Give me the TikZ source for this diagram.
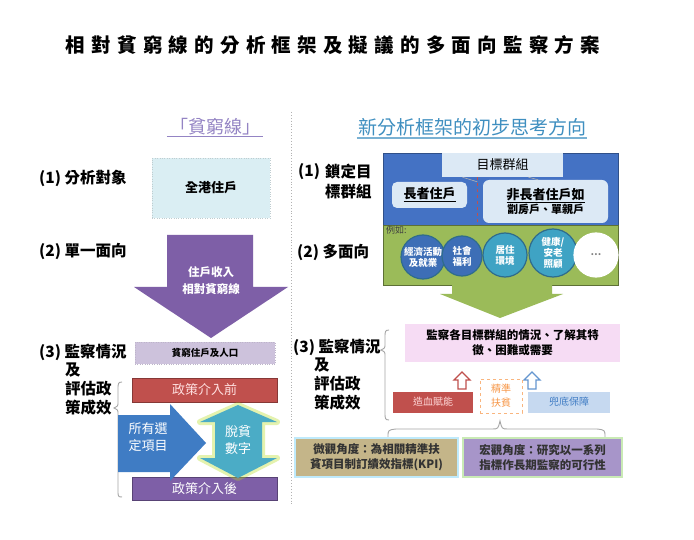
\documentclass[tikz,border=0pt]{standalone}
\usepackage{fontspec}
\setmainfont{Noto Sans CJK TC}
\usetikzlibrary{shapes.geometric}
\newcommand\fsz[2]{\fontsize{#1}{#2}\selectfont}
\definecolor{purp}{HTML}{7E5FA7}
\definecolor{lav}{HTML}{CDC2DC}
\definecolor{redb}{HTML}{C0504D}
\definecolor{bluea}{HTML}{3F7CC4}
\definecolor{teal}{HTML}{4BACC6}
\definecolor{cyanb}{HTML}{DAEEF3}
\definecolor{bigblue}{HTML}{4472C4}
\definecolor{tabb}{HTML}{DCE9F5}
\definecolor{greenb}{HTML}{9BBB59}
\definecolor{pinkb}{HTML}{F6DCF4}
\definecolor{lblue}{HTML}{C6D9F0}
\definecolor{orng}{HTML}{F79646}
\definecolor{tan}{HTML}{C4B589}
\definecolor{lav2}{HTML}{A795C9}
\definecolor{hpurp}{HTML}{9484C4}
\definecolor{hteal}{HTML}{3F8FC0}
\definecolor{cdark}{HTML}{3D6EB6}
\definecolor{clight}{HTML}{3FA3C4}
\definecolor{cedge}{HTML}{2F6C8C}
\tikzset{
  lbl/.style={font=\bfseries\fsz{15.5}{19}, anchor=west, inner sep=0},
  boxx/.style={inner sep=0, align=center},
  circ/.style={circle, draw=cedge, line width=1.2, minimum size=#1, inner sep=0, text=white, align=center, font=\bfseries\fsz{9.5}{11}},
  brace/.style={draw=gray!70, line width=0.9},
  hollow/.style={line width=1.3, fill=white},
}
\begin{document}
\begin{tikzpicture}[x=1pt,y=-1pt]
\useasboundingbox (0,0) rectangle (694,540);
\fill[white] (0,0) rectangle (694,540);
% title
\node[font=\bfseries\fsz{19.5}{22}\addfontfeature{LetterSpace=32}] (title) at (333,45) {相對貧窮線的分析框架及擬議的多面向監察方案};
% divider
\draw[gray!60, dotted, line width=0.9] (291,112) -- (291,505);
% headers
\node[text=hpurp, font=\fsz{18}{20}, inner sep=1] (lh) at (215,127) {「貧窮線」};
\draw[hpurp, line width=1.2] ([xshift=-2pt]lh.south west) -- ([xshift=2pt]lh.south east);
\node[text=hteal, font=\fsz{19}{21}, inner sep=1] (rh) at (472,127) {新分析框架的初步思考方向};
\draw[hteal!70, line width=1.2] ([yshift=-1pt]rh.south west) -- ([yshift=-1pt]rh.south east);
% ---- left labels
\node[lbl] (l1) at (39,178) {(1) 分析對象};
\node[lbl] (l2) at (39,251) {(2) 單一面向};
\node[lbl] (l3) at (39,352) {(3) 監察情況};
\node[lbl] (l3b) at (65,370) {及};
\node[lbl] (l3c) at (65,389) {評估政};
\node[lbl] (l3d) at (65,408) {策成效};
% left brace
\draw[brace] (122,382) .. controls (118,382) and (118,384) .. (118,389) -- (118,402) .. controls (118,406) .. (114,408) .. controls (118,410) .. (118,414) -- (118,491) .. controls (118,496) and (118,497) .. (122,497);
% box all households
\node[boxx, fill=cyanb, draw=cyanb!70!gray, dotted, minimum width=118, minimum height=60, font=\bfseries\fsz{13}{15}] (all) at (211,188) {全港住戶};
% purple down arrow
\fill[purp] (167,235) -- (253,235) -- (253,287) -- (288,287) -- (211,338) -- (134,287) -- (167,287) -- cycle;
\node[text=white, font=\bfseries\fsz{11.5}{17}, align=center] (inc) at (211,281) {住戶收入\\相對貧窮線};
% poor households
\node[boxx, fill=lav, draw=lav!80!gray, dotted, minimum width=140, minimum height=22, font=\bfseries\fsz{9.5}{11}] (poor) at (205,353) {貧窮住戶及人口};
\node[boxx, fill=redb, draw=redb!70!black, minimum width=145, minimum height=24, text=red!12, font=\fsz{13}{15}] (pre) at (204.5,390) {政策介入前};
\node[boxx, fill=purp, draw=purp!70!black, minimum width=145, minimum height=23, text=white, font=\fsz{13}{15}] (post) at (204.5,488.5) {政策介入後};
% blue right arrow
\fill[bluea] (118,415) -- (170,415) -- (170,404) -- (206,443) -- (170,481) -- (170,472) -- (118,472) -- cycle;
\node[text=white, font=\fsz{13}{17}, align=center] (sel) at (148,437) {所有選\\定項目};
% teal double arrow with glow
\path[draw=yellow!70!green, line width=6, opacity=0.35, line join=round] (238,405) -- (277,422) -- (262,422) -- (262,458) -- (277,458) -- (238,478) -- (200,458) -- (215,458) -- (215,422) -- (200,422) -- cycle;
\fill[teal] (238,405) -- (277,422) -- (262,422) -- (262,458) -- (277,458) -- (238,478) -- (200,458) -- (215,458) -- (215,422) -- (200,422) -- cycle;
\node[text=white, font=\fsz{13}{17}, align=center] (out) at (238,440) {脫貧\\數字};
% ---- right labels
\node[lbl] (r1) at (298,172) {(1)};
\node[lbl] (r1b) at (325,172) {鎖定目};
\node[lbl] (r1c) at (325,192) {標群組};
\node[lbl] (r2) at (297,252) {(2) 多面向};
\node[lbl] (r3) at (293,347) {(3) 監察情況};
\node[lbl] (r3b) at (314,365) {及};
\node[lbl] (r3c) at (314,384) {評估政};
\node[lbl] (r3d) at (314,403) {策成效};
\draw[brace] (389,330) .. controls (385,330) and (385,332) .. (385,337) -- (385,344) .. controls (385,348) .. (381,350) .. controls (385,352) .. (385,356) -- (385,413) .. controls (385,418) and (385,420) .. (389,420);
% target group box
\node[fill=bigblue, draw=bigblue!70!black, minimum width=235, minimum height=72, inner sep=0] (tg) at (500.5,189) {};
\node[boxx, fill=tabb, minimum width=121, minimum height=24, font=\fsz{13}{15}] (tab) at (502.5,165) {目標群組};
\node[boxx, fill=tabb, rounded corners=5, minimum width=75, minimum height=26, font=\bfseries\fsz{13}{15}] (eld) at (429.5,195) {\underline{長者住戶}};
\node[boxx, fill=tabb, rounded corners=6, minimum width=125, minimum height=43, font=\bfseries\fsz{13}{15}] (nonel) at (545.5,201.5) {\underline{非長者住戶如}\\[-1pt]{\fsz{11}{13}劏房戶、單親戶}};
\draw[redb, dashed, line width=1] (477,177) -- (477,225);
\draw[gray!60, line width=0.6] ([xshift=-40pt]tab.south) -- ([xshift=10pt]eld.north east);
\draw[gray!60, line width=0.6] ([xshift=26pt]tab.south) -- ([xshift=-70pt]nonel.north east);
% green box
\node[fill=greenb, draw=greenb!60!black, minimum width=235, minimum height=60, inner sep=0] (gb) at (500.5,255) {};
\node[anchor=north west, inner sep=0, text=black!75, font=\fsz{9}{10}] (eg) at (386,226) {例如:};
\node[circ=44, fill=cdark] (c1) at (423,257) {經濟活動\\及就業};
\node[circ=40, fill=cdark] (c2) at (462,256) {社會\\福利};
\node[circ=44, fill=clight] (c3) at (505,255) {居住\\環境};
\node[circ=48, fill=clight] (c4) at (553,253) {健康/\\安老\\照顧};
\node[circ=44, fill=white, draw=white, text=gray] (c5) at (596,255) {…};
% green down arrow
\fill[greenb] (452,285) -- (552,285) -- (552,294) -- (563,294) -- (500,318) -- (440,294) -- (452,294) -- cycle;
% pink box
\node[boxx, fill=pinkb, minimum width=215, minimum height=38, font=\bfseries\fsz{11.5}{15}] (mon) at (512.5,343) {監察各目標群組的情況、了解其特\\徵、困難或需要};
% hollow arrows
\draw[hollow, draw=redb] (462,372) -- ++(8,8) -- ++(-4,0) -- ++(0,9) -- ++(-8,0) -- ++(0,-9) -- ++(-4,0) -- cycle;
\draw[hollow, draw=bluea!80] (532,372) -- ++(8,8) -- ++(-4,0) -- ++(0,9) -- ++(-8,0) -- ++(0,-9) -- ++(-4,0) -- cycle;
\node[boxx, fill=redb, minimum width=80, minimum height=21, text=red!15, font=\fsz{10}{12}] (blood) at (433,402) {造血賦能};
\node[boxx, fill=white, draw=orng!70, dashed, minimum width=42, minimum height=34, text=orng, font=\fsz{10}{14}] (prec) at (501,396) {精準\\扶貧};
\node[boxx, fill=lblue, minimum width=82, minimum height=21, text=bluea, font=\fsz{10}{12}] (safe) at (569,402) {兜底保障};
% horizontal brace
\draw[brace] (388,437) .. controls (388,430) .. (396,429) -- (492,429) .. controls (498,429) .. (500,421) .. controls (502,429) .. (508,429) -- (597,429) .. controls (605,430) .. (605,437);
% bottom boxes
\node[boxx, fill=tan, draw=cyan!25, line width=2, minimum width=163, minimum height=39, font=\bfseries\fsz{11.5}{15}, text=black!80] (micro) at (376.5,457.5) {微觀角度：為相關精準扶\\貧項目制訂績效指標(KPI)};
\node[boxx, fill=lav2, draw=yellow!30!green!30, line width=2, minimum width=159, minimum height=39, font=\bfseries\fsz{11.5}{15}, text=black!80] (macro) at (542.5,457.5) {宏觀角度：研究以一系列\\指標作長期監察的可行性};
\end{tikzpicture}
\end{document}
